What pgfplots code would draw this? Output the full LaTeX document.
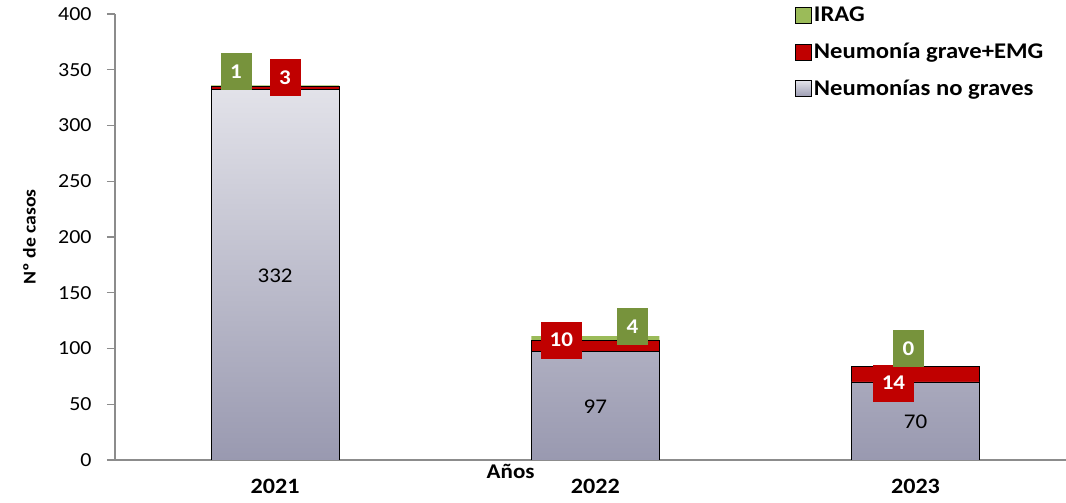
\documentclass[border=0pt]{standalone}
\usepackage{pgfplots}
\pgfplotsset{compat=1.18}
\usepackage{fontspec}
\setmainfont{Carlito}[FakeStretch=1.1]

\definecolor{irag}{HTML}{9BBB59}
\definecolor{iragbox}{HTML}{77933C}
\definecolor{grave}{HTML}{C00000}
\definecolor{axisgray}{HTML}{8C8C8C}
\definecolor{bartop}{HTML}{E2E2E9}
\definecolor{barbot}{HTML}{9999B0}

\begin{document}
\begin{tikzpicture}[font=\fontsize{20}{22}\selectfont,
  lbl/.style={text=white, font=\fontsize{21}{23}\selectfont\bfseries,
    minimum width=31bp, minimum height=37bp, inner sep=0pt},
  val/.style={font=\fontsize{21}{23}\selectfont}]
\begin{axis}[
  at={(0,0)}, anchor=south west,
  scale only axis, width=951bp, height=446bp,
  ybar stacked, bar width=0.4,
  xmin=-0.5, xmax=2.47, ymin=0, ymax=400,
  ytick={0,50,...,400},
  xtick={0,1,2}, xticklabels={2021,2022,2023},
  major x tick style={draw=none},
  extra x ticks={-0.5,0.5,1.5}, extra x tick labels={},
  extra x tick style={major tick length=9bp},
  major tick length=8bp,
  tick style={axisgray, line width=1.2pt},
  axis lines*=left,
  axis line style={axisgray, line width=1.5pt},
  tick align=outside,
  /pgf/number format/assume math mode=true,
  yticklabel style={font=\fontsize{20}{22}\selectfont, xshift=-12bp},
  xticklabel style={font=\fontsize{22}{24}\selectfont\bfseries, yshift=-8bp},
  ylabel={Nº de casos},
  ylabel style={at={(axis description cs:-0.09,0.5)}, anchor=center,
    font=\fontsize{18}{20}\selectfont\bfseries},
  xlabel={Años},
  xlabel style={at={(axis description cs:0.416,-0.025)}, anchor=center,
    font=\fontsize{21}{23}\selectfont\bfseries},
  legend style={at={(axis description cs:0.715,1.02)}, anchor=north west,
    draw=none, fill=none, font=\fontsize{22.5}{24}\selectfont\bfseries,
    row sep=16bp, inner sep=0pt,
    /tikz/every even column/.append style={column sep=5bp}},
  legend cell align=left,
  legend image code/.code={\draw[#1, draw opacity=1] (0bp,-8bp) rectangle (16bp,8bp);},
  reverse legend,
]
\addplot[draw=black, line width=0.8pt, top color=bartop, bottom color=barbot]
  coordinates {(0,332) (1,97) (2,70)};
\addlegendentry{Neumonías no graves}
\addplot[draw=black, line width=0.8pt, fill=grave]
  coordinates {(0,3) (1,10) (2,14)};
\addlegendentry{Neumonía grave+EMG}
\addplot[draw=none, fill=irag]
  coordinates {(0,1) (1,4) (2,0)};
\addlegendentry{IRAG}

\coordinate (v1) at (axis cs:0,165);
\coordinate (v2) at (axis cs:1,47.5);
\coordinate (v3) at (axis cs:2,34);
\coordinate (g1) at (axis cs:-0.122,348);
\coordinate (r1) at (axis cs:0.031,342.6);
\coordinate (r2) at (axis cs:0.894,107.6);
\coordinate (g2) at (axis cs:1.116,119.3);
\coordinate (r3) at (axis cs:1.931,69);
\coordinate (g3) at (axis cs:1.978,99.6);
\end{axis}
\node[val] at (v1) {332};
\node[val] at (v2) {97};
\node[val] at (v3) {70};
\node[lbl, fill=iragbox] at (g1) {1};
\node[lbl, fill=grave] at (r1) {3};
\node[lbl, fill=grave, minimum width=41bp] at (r2) {10};
\node[lbl, fill=iragbox] at (g2) {4};
\node[lbl, fill=grave, minimum width=41bp] at (r3) {14};
\node[lbl, fill=iragbox] at (g3) {0};
\pgfresetboundingbox
\path[use as bounding box] (-115bp,-43bp) rectangle (951bp,460bp);
\end{tikzpicture}
\end{document}
